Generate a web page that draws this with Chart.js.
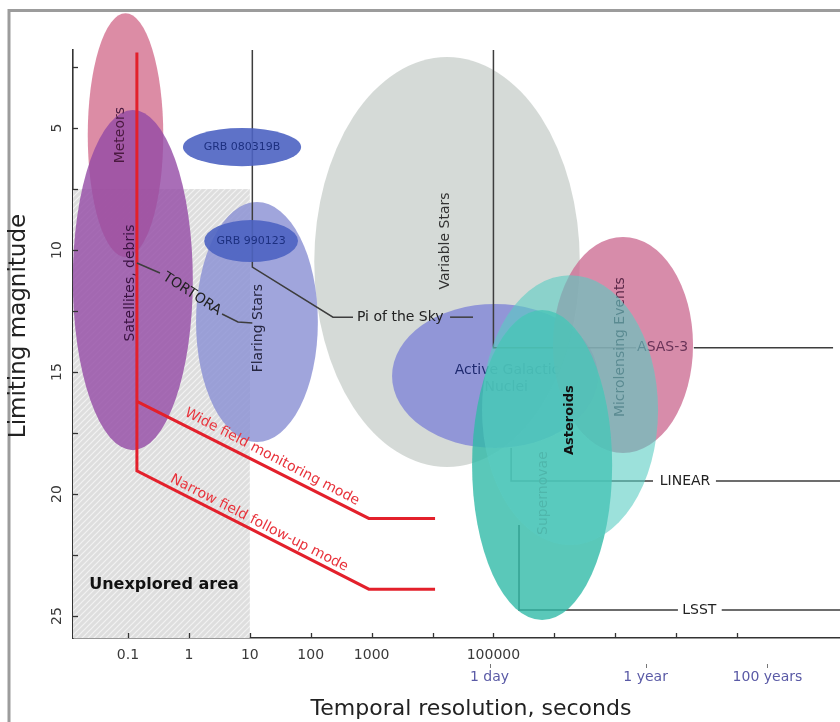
<!DOCTYPE html>
<html><head><meta charset="utf-8">
<script src="https://cdn.jsdelivr.net/npm/chart.js@4.4.0/dist/chart.umd.min.js"></script>
<style>html,body{margin:0;padding:0;background:#fff;}canvas{display:block;}</style>
</head><body>
<canvas id="c" width="840" height="722"></canvas>
<script>
// ---------------- DATA ----------------
const xMinSeconds = 0.0125, xMaxSeconds = 4.9e10;
const yMinMag = 1.8, yMaxMag = 25.9;
const xTickValues = [0.1, 1, 10, 100, 1000, 1e4, 1e5, 1e6, 1e7, 1e8, 1e9];
const xTickLabels = ['0.1', '1', '10', '100', '1000', '', '100000', '', '', '', ''];
const timeMarkSeconds = [86400, 31557600, 3155760000];
const timeMarkLabels = ['1 day', '1 year', '100 years'];
const yTickValues = [2.5, 5, 7.5, 10, 12.5, 15, 17.5, 20, 22.5, 25];
const yTickLabels = ['', '5', '', '10', '', '15', '', '20', '', '25'];

// phenomena regions (ellipses in log-seconds / magnitude space)
const regionNames = ['Variable Stars', 'Meteors', 'Satellites, debris', 'Flaring Stars', 'GRB 080319B', 'GRB 990123',
  'Active Galactic Nuclei', 'Microlensing Events', 'Supernovae', 'Asteroids'];
const regionCenterSeconds = [17300, 0.091, 0.12, 13.1, 7.45, 10.5, 1.06e5, 1.34e7, 6.3e5, 1.81e6];
const regionHalfWidthDecades = [2.18, 0.62, 0.985, 1.0, 0.97, 0.77, 1.69, 1.15, 1.15, 1.445];
const regionCenterMag = [10.49, 5.29, 11.23, 12.95, 5.78, 9.63, 15.16, 13.89, 18.81, 16.56];
const regionHalfHeightMag = [8.4, 5.0, 6.97, 4.92, 0.78, 0.86, 2.95, 4.43, 6.35, 5.53];

// unexplored area
const unexploredMaxSeconds = 10;
const unexploredBrightestMag = 7.5;

// Mini-MegaTORTORA modes (red)
const narrowModeSeconds = [0.14, 0.14, 900, 11000];
const narrowModeMag = [1.9, 19.05, 23.9, 23.9];
const wideModeSeconds = [0.14, 900, 11000];
const wideModeMag = [16.2, 21.0, 21.0];

// other surveys (leader lines)
const piSkySeconds = [11, 11, 232, 495];
const piSkyMag = [1.8, 10.7, 12.75, 12.75];
const piSkyTailSeconds = [19400, 46200];
const piSkyTailMag = [12.75, 12.75];
const tortoraSeconds = [0.14, 0.335];
const tortoraMag = [10.53, 10.94];
const tortoraTailSeconds = [3.5, 6.4, 11];
const tortoraTailMag = [12.62, 12.95, 12.99];
const asasSeconds = [1e5, 1e5, 2.2e7];
const asasMag = [1.8, 14.0, 14.0];
const asasTailSeconds = [1.95e8, 3.77e10];
const asasTailMag = [14.0, 14.0];
const linearSeconds = [1.95e5, 1.95e5, 4.17e7];
const linearMag = [18.11, 19.47, 19.47];
const linearTailSeconds = [4.5e8, 4.9e10];
const linearTailMag = [19.47, 19.47];
const lsstSeconds = [2.63e5, 2.63e5, 1.07e8];
const lsstMag = [21.27, 24.75, 24.75];
const lsstTailSeconds = [5.6e8, 4.9e10];
const lsstTailMag = [24.75, 24.75];

// ---------------- STYLES ----------------
const FONT = '"DejaVu Sans", "Liberation Sans", sans-serif';
Chart.defaults.font.family = FONT;
const regionFill = {
  'Variable Stars': 'rgba(207,213,210,0.88)',
  'Meteors': 'rgba(211,111,142,0.8)',
  'Satellites, debris': 'rgba(148,74,165,0.8)',
  'Flaring Stars': 'rgba(136,142,211,0.8)',
  'GRB 080319B': 'rgba(77,99,194,0.9)',
  'GRB 990123': 'rgba(77,99,194,0.9)',
  'Active Galactic Nuclei': 'rgba(129,134,215,0.8)',
  'Microlensing Events': 'rgba(205,111,149,0.8)',
  'Supernovae': 'rgba(49,186,168,0.8)',
  'Asteroids': 'rgba(90,205,195,0.6)'
};
const lineColor = '#3d3d3d';
const redColor = '#e3202b';

// label annotations: [text, seconds, mag, rotation deg, font, color, align]
const labelsLayer1 = [
  ['Variable Stars', 16000, 9.63, -90, '14px', '#333333'],
  ['Meteors', 0.074, 5.29, -90, '14px', '#4a1a40'],
  ['Satellites, debris', 0.108, 11.35, -90, '14px', '#3a1240'],
  ['Flaring Stars', 13.6, 13.2, -90, '14px', '#262640'],
  ['Active Galactic', 1.67e5, 14.92, 0, '14px', '#1f2a70'],
  ['Nuclei', 1.62e5, 15.62, 0, '14px', '#1f2a70']
];
const labelsLayer2 = [
  ['GRB 080319B', 7.45, 5.78, 0, '11px', '#1d3080'],
  ['GRB 990123', 10.5, 9.63, 0, '11px', '#1d3080']
];
const labelMicro = ['Microlensing Events', 1.2e7, 13.98, -90, '14px', '#5b2848'];
const labelAsas = ['ASAS-3', 6.0e7, 14.0, 0, '14px', '#6a3458'];
const labelSuper = ['Supernovae', 6.5e5, 19.96, -90, '14px', '#3f9488'];
const labelAster = ['Asteroids', 1.81e6, 16.97, -90, 'bold 13px', '#111111'];
const labelsTop = [
  ['LINEAR', 1.4e8, 19.47, 0, '14px', '#222222'],
  ['LSST', 2.4e8, 24.75, 0, '14px', '#222222'],
  ['Pi of the Sky', 575, 12.75, 0, '14px', '#222222', 'left'],
  ['TORTORA', 1.12, 11.8, 33, '14px', '#222222'],
  ['Wide field monitoring mode', 23.2, 18.48, 27.5, '14px', '#e8333c'],
  ['Narrow field follow-up mode', 14.2, 21.19, 27, '14px', '#e8333c'],
  ['Unexplored area', 0.39, 23.73, 0, 'bold 16px', '#111111']
];

function pts(xs, ys) { return xs.map((x, i) => ({ x: x, y: ys[i] })); }
function lineDs(xs, ys, color, width) {
  return { data: pts(xs, ys), showLine: true, borderColor: color, borderWidth: width,
    pointRadius: 0, fill: false, tension: 0, clip: false, borderJoinStyle: 'miter' };
}

function px(chart, s) { return chart.scales.x.getPixelForValue(s); }
function py(chart, m) { return chart.scales.y.getPixelForValue(m); }

function drawRegion(chart, name) {
  const i = regionNames.indexOf(name);
  const ctx = chart.ctx;
  const s = regionCenterSeconds[i], f = Math.pow(10, regionHalfWidthDecades[i]);
  const cx = px(chart, s);
  const rx = Math.abs(px(chart, s * f) - px(chart, s / f)) / 2;
  const m = regionCenterMag[i], h = regionHalfHeightMag[i];
  const cy = py(chart, m);
  const ry = Math.abs(py(chart, m + h) - py(chart, m - h)) / 2;
  ctx.save();
  ctx.beginPath();
  ctx.ellipse(cx, cy, rx, ry, 0, 0, Math.PI * 2);
  ctx.fillStyle = regionFill[name];
  ctx.fill();
  ctx.restore();
}
function drawLabel(chart, a) {
  const ctx = chart.ctx;
  ctx.save();
  ctx.translate(px(chart, a[1]), py(chart, a[2]));
  ctx.rotate(a[3] * Math.PI / 180);
  ctx.font = a[4] + ' ' + FONT;
  ctx.fillStyle = a[5];
  ctx.textAlign = a[6] || 'center';
  ctx.textBaseline = 'middle';
  ctx.fillText(a[0], 0, 0);
  ctx.restore();
}
function hatchPattern(ctx) {
  const c = document.createElement('canvas');
  c.width = 6; c.height = 6;
  const g = c.getContext('2d');
  g.fillStyle = '#dedede'; g.fillRect(0, 0, 6, 6);
  g.strokeStyle = '#f2f2f2'; g.lineWidth = 1.2;
  g.beginPath();
  g.moveTo(0, 6); g.lineTo(6, 0);
  g.moveTo(-3, 3); g.lineTo(3, -3);
  g.moveTo(3, 9); g.lineTo(9, 3);
  g.stroke();
  return ctx.createPattern(c, 'repeat');
}

const artPlugin = {
  id: 'art',
  beforeDraw(chart) {
    const ctx = chart.ctx;
    ctx.save();
    ctx.strokeStyle = '#9c9c9c'; ctx.lineWidth = 3;
    ctx.beginPath();
    ctx.moveTo(9, 740); ctx.lineTo(9, 10.5); ctx.lineTo(850, 10.5);
    ctx.stroke();
    ctx.restore();
  },
  beforeDatasetsDraw(chart) {
    const ctx = chart.ctx;
    // unexplored hatched area
    const x0 = chart.chartArea.left, x1 = px(chart, unexploredMaxSeconds);
    const y0 = py(chart, unexploredBrightestMag), y1 = chart.chartArea.bottom;
    ctx.save(); ctx.fillStyle = hatchPattern(ctx); ctx.fillRect(x0, y0, x1 - x0, y1 - y0); ctx.restore();
    drawRegion(chart, 'Variable Stars');
    drawLabel(chart, labelsLayer1[0]);
    drawRegion(chart, 'Meteors');
    drawRegion(chart, 'Satellites, debris');
    drawLabel(chart, labelsLayer1[1]);
    drawLabel(chart, labelsLayer1[2]);
    drawRegion(chart, 'Flaring Stars');
    drawLabel(chart, labelsLayer1[3]);
    drawRegion(chart, 'Active Galactic Nuclei');
    drawLabel(chart, labelsLayer1[4]);
    drawLabel(chart, labelsLayer1[5]);
  },
  afterDatasetsDraw(chart) {
    drawRegion(chart, 'GRB 080319B');
    drawLabel(chart, labelsLayer2[0]);
    drawRegion(chart, 'GRB 990123');
    drawLabel(chart, labelsLayer2[1]);
    drawRegion(chart, 'Microlensing Events');
    drawLabel(chart, labelMicro);
    drawLabel(chart, labelAsas);
    drawRegion(chart, 'Supernovae');
    drawLabel(chart, labelSuper);
    drawRegion(chart, 'Asteroids');
    drawLabel(chart, labelAster);
    labelsTop.forEach(a => drawLabel(chart, a));
  },
  afterDraw(chart) {
    const ctx = chart.ctx, ca = chart.chartArea;
    ctx.save();
    ctx.strokeStyle = '#333'; ctx.lineWidth = 1.3;
    // x tick marks (inward)
    chart.scales.x.ticks.forEach(t => {
      const x = Math.round(px(chart, t.value)) + 0.5;
      ctx.beginPath(); ctx.moveTo(x, ca.bottom); ctx.lineTo(x, ca.bottom - 5); ctx.stroke();
    });
    // y tick marks (inward) and rotated labels
    chart.scales.y.ticks.forEach(t => {
      const y = Math.round(py(chart, t.value)) + 0.5;
      ctx.beginPath(); ctx.moveTo(ca.left, y); ctx.lineTo(ca.left + 5, y); ctx.stroke();
    });
    ctx.fillStyle = '#3a3a3a';
    ctx.font = '14px ' + FONT;
    ctx.textAlign = 'center'; ctx.textBaseline = 'middle';
    yTickValues.forEach((v, i) => {
      if (!yTickLabels[i]) return;
      ctx.save();
      ctx.translate(ca.left - 16, py(chart, v));
      ctx.rotate(-Math.PI / 2);
      ctx.fillText(yTickLabels[i], 0, 0);
      ctx.restore();
    });
    // small marks above time labels
    ctx.strokeStyle = '#777'; ctx.lineWidth = 1;
    timeMarkSeconds.forEach(s => {
      const x = Math.round(px(chart, s)) + 0.5;
      ctx.beginPath(); ctx.moveTo(x, ca.bottom + 26); ctx.lineTo(x, ca.bottom + 30); ctx.stroke();
    });
    // axis titles
    ctx.fillStyle = '#222';
    ctx.font = '22px ' + FONT;
    ctx.fillText('Temporal resolution, seconds', 471, ca.bottom + 71);
    ctx.save();
    ctx.translate(19, 326);
    ctx.rotate(-Math.PI / 2);
    ctx.font = '23px ' + FONT;
    ctx.fillText('Limiting magnitude', 0, 0);
    ctx.restore();
    ctx.restore();
  }
};

new Chart(document.getElementById('c'), {
  type: 'scatter',
  data: {
    datasets: [
      lineDs(piSkySeconds, piSkyMag, lineColor, 1.5),
      lineDs(piSkyTailSeconds, piSkyTailMag, lineColor, 1.5),
      lineDs(tortoraSeconds, tortoraMag, lineColor, 1.5),
      lineDs(tortoraTailSeconds, tortoraTailMag, lineColor, 1.5),
      lineDs(asasSeconds, asasMag, lineColor, 1.5),
      lineDs(asasTailSeconds, asasTailMag, lineColor, 1.5),
      lineDs(linearSeconds, linearMag, lineColor, 1.5),
      lineDs(linearTailSeconds, linearTailMag, lineColor, 1.5),
      lineDs(lsstSeconds, lsstMag, lineColor, 1.5),
      lineDs(lsstTailSeconds, lsstTailMag, lineColor, 1.5),
      lineDs(narrowModeSeconds, narrowModeMag, redColor, 3),
      lineDs(wideModeSeconds, wideModeMag, redColor, 3)
    ]
  },
  options: {
    responsive: false,
    animation: false,
    events: [],
    layout: { padding: { left: 73, top: 50, right: 0, bottom: 34 } },
    plugins: { legend: { display: false }, tooltip: { enabled: false } },
    scales: {
      x: {
        type: 'logarithmic', position: 'bottom', min: xMinSeconds, max: xMaxSeconds, z: 1, weight: 0,
        afterFit: s => { s.height = 22; },
        afterBuildTicks: s => { s.ticks = xTickValues.map(v => ({ value: v })); },
        grid: { display: false, drawTicks: false },
        border: { display: true, color: '#333', width: 1.6 },
        ticks: { autoSkip: false, maxRotation: 0, minRotation: 0, padding: 9, color: '#3a3a3a',
          font: { size: 14 }, callback: (v, i) => xTickLabels[i] }
      },
      x2: {
        type: 'logarithmic', position: 'bottom', axis: 'x', min: xMinSeconds, max: xMaxSeconds, weight: 1,
        afterFit: s => { s.height = 28; },
        afterBuildTicks: s => { s.ticks = timeMarkSeconds.map(v => ({ value: v })); },
        grid: { display: false, drawTicks: false },
        border: { display: false },
        ticks: { autoSkip: false, maxRotation: 0, minRotation: 0, padding: 9, color: '#5a5aa6',
          font: { size: 14 }, callback: (v, i) => timeMarkLabels[i] }
      },
      y: {
        type: 'linear', position: 'left', reverse: true, min: yMinMag, max: yMaxMag, z: 1,
        afterFit: s => { s.width = 0; },
        afterBuildTicks: s => { s.ticks = yTickValues.map(v => ({ value: v })); },
        grid: { display: false, drawTicks: false },
        border: { display: true, color: '#333', width: 1.6 },
        ticks: { display: false }
      }
    }
  },
  plugins: [artPlugin]
});
</script>
</body></html>
